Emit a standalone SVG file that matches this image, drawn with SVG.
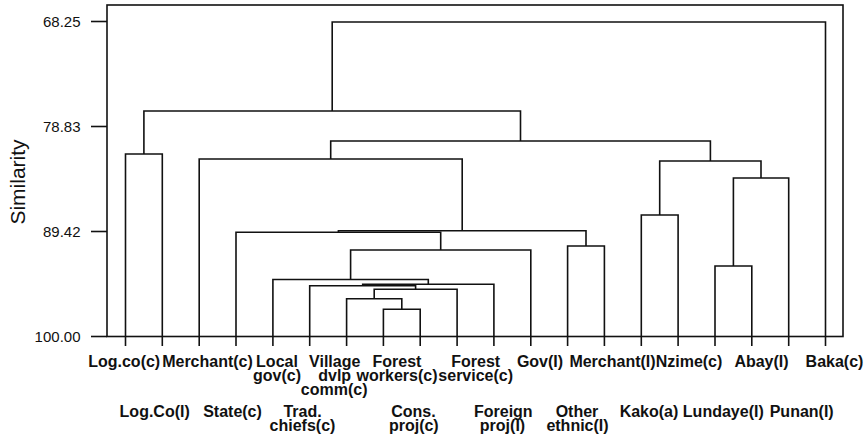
<svg xmlns="http://www.w3.org/2000/svg" width="867" height="434" viewBox="0 0 867 434">
  <style>
    .frame { fill: none; stroke: #111; stroke-width: 1.6; }
    .link { fill: none; stroke: #111; stroke-width: 1.6; stroke-linejoin: miter; }
    .tick { stroke: #111; stroke-width: 1.6; }
    .axis-num { font-family: "Liberation Sans", Arial, sans-serif; font-size: 15px; fill: #111; text-anchor: end; }
    .axis-title { font-family: "Liberation Sans", Arial, sans-serif; font-size: 21px; fill: #111; text-anchor: middle; }
    .leaf-label { font-family: "Liberation Sans", Arial, sans-serif; font-size: 16px; font-weight: bold; fill: #111; text-anchor: middle; }
  </style>
  <rect width="867" height="434" fill="#fff"/>

  <!-- plot frame and similarity axis -->
  <g id="axis">
    <rect class="frame" x="107" y="5" width="736" height="331.5"/>
    <line class="tick" x1="91" y1="21.5" x2="107" y2="21.5"/>
    <line class="tick" x1="91" y1="126.5" x2="107" y2="126.5"/>
    <line class="tick" x1="91" y1="231.5" x2="107" y2="231.5"/>
    <line class="tick" x1="91" y1="336.5" x2="107" y2="336.5"/>
    <text class="axis-num" x="80.5" y="27">68.25</text>
    <text class="axis-num" x="80.5" y="132">78.83</text>
    <text class="axis-num" x="80.5" y="237">89.42</text>
    <text class="axis-num" x="80.5" y="342">100.00</text>
    <text class="axis-title" transform="translate(25,182) rotate(-90)">Similarity</text>
  </g>

  <!-- dendrogram links: each path is left leg, bar, right leg -->
  <g id="connectors">
    <path class="link" d="M383.4 336.5 V309.3 H420.2 V336.5"/>
    <path class="link" d="M346.6 336.5 V298.7 H401.8 V309.3"/>
    <path class="link" d="M374.2 298.7 V289.3 H457.1 V336.5"/>
    <path class="link" d="M309.7 336.5 V285.8 H415.6 V289.3"/>
    <path class="link" d="M362.7 285.8 V284.3 H493.9 V336.5"/>
    <path class="link" d="M272.9 336.5 V279.5 H428.3 V284.3"/>
    <path class="link" d="M350.6 279.5 V250 H530.8 V336.5"/>
    <path class="link" d="M236 336.5 V232.3 H440.7 V250"/>
    <path class="link" d="M567.6 336.5 V246 H604.4 V336.5"/>
    <path class="link" d="M338.4 232.3 V230.7 H586 V246"/>
    <path class="link" d="M199.2 336.5 V159 H462.2 V230.7"/>
    <path class="link" d="M641.3 336.5 V215 H678.1 V336.5"/>
    <path class="link" d="M715 336.5 V266 H751.8 V336.5"/>
    <path class="link" d="M733.4 266 V178 H788.7 V336.5"/>
    <path class="link" d="M659.7 215 V161 H761 V178"/>
    <path class="link" d="M330.7 159 V141 H710.4 V161"/>
    <path class="link" d="M125.5 336.5 V154 H162.3 V336.5"/>
    <path class="link" d="M143.9 154 V111 H520.5 V141"/>
    <path class="link" d="M332.2 111 V22 H825.5 V336.5"/>
  </g>

  <!-- leaves: tick under the baseline and the label -->
  <g id="leaf-logco-c"><line class="tick" x1="125.5" y1="336.5" x2="125.5" y2="346"/><text class="leaf-label" x="124.2" y="366.5">Log.co(c)</text></g>
  <g id="leaf-logco-i"><line class="tick" x1="162.3" y1="336.5" x2="162.3" y2="346"/><text class="leaf-label" x="154.7" y="416.5">Log.Co(I)</text></g>
  <g id="leaf-merchant-c"><line class="tick" x1="199.2" y1="336.5" x2="199.2" y2="346"/><text class="leaf-label" x="207.5" y="366.5">Merchant(c)</text></g>
  <g id="leaf-state-c"><line class="tick" x1="236" y1="336.5" x2="236" y2="346"/><text class="leaf-label" x="232.5" y="416.5">State(c)</text></g>
  <g id="leaf-localgov-c"><line class="tick" x1="272.9" y1="336.5" x2="272.9" y2="346"/><text class="leaf-label" x="277" y="366.5">Local<tspan x="277" dy="14">gov(c)</tspan></text></g>
  <g id="leaf-tradchiefs-c"><line class="tick" x1="309.7" y1="336.5" x2="309.7" y2="346"/><text class="leaf-label" x="302.5" y="416.5">Trad.<tspan x="302.5" dy="14">chiefs(c)</tspan></text></g>
  <g id="leaf-village-c"><line class="tick" x1="346.6" y1="336.5" x2="346.6" y2="346"/><text class="leaf-label" x="334.7" y="366.5">Village<tspan x="334.7" dy="14">dvlp</tspan><tspan x="334.2" dy="14">comm(c)</tspan></text></g>
  <g id="leaf-consproj-c"><line class="tick" x1="383.4" y1="336.5" x2="383.4" y2="346"/><text class="leaf-label" x="413.5" y="416.5">Cons.<tspan x="413.8" dy="14">proj(c)</tspan></text></g>
  <g id="leaf-forestworkers-c"><line class="tick" x1="420.2" y1="336.5" x2="420.2" y2="346"/><text class="leaf-label" x="397" y="366.5">Forest<tspan x="397" dy="14">workers(c)</tspan></text></g>
  <g id="leaf-forestservice-c"><line class="tick" x1="457.1" y1="336.5" x2="457.1" y2="346"/><text class="leaf-label" x="475.7" y="366.5">Forest<tspan x="475.7" dy="14">service(c)</tspan></text></g>
  <g id="leaf-foreignproj-i"><line class="tick" x1="493.9" y1="336.5" x2="493.9" y2="346"/><text class="leaf-label" x="503.3" y="416.5">Foreign<tspan x="502.5" dy="14">proj(I)</tspan></text></g>
  <g id="leaf-gov-i"><line class="tick" x1="530.8" y1="336.5" x2="530.8" y2="346"/><text class="leaf-label" x="540" y="366.5">Gov(I)</text></g>
  <g id="leaf-otherethnic-i"><line class="tick" x1="567.6" y1="336.5" x2="567.6" y2="346"/><text class="leaf-label" x="577" y="416.5">Other<tspan x="577.5" dy="14">ethnic(I)</tspan></text></g>
  <g id="leaf-merchant-i"><line class="tick" x1="604.4" y1="336.5" x2="604.4" y2="346"/><text class="leaf-label" x="612.5" y="366.5">Merchant(I)</text></g>
  <g id="leaf-kako-a"><line class="tick" x1="641.3" y1="336.5" x2="641.3" y2="346"/><text class="leaf-label" x="649" y="416.5">Kako(a)</text></g>
  <g id="leaf-nzime-c"><line class="tick" x1="678.1" y1="336.5" x2="678.1" y2="346"/><text class="leaf-label" x="689" y="366.5">Nzime(c)</text></g>
  <g id="leaf-lundaye-i"><line class="tick" x1="715" y1="336.5" x2="715" y2="346"/><text class="leaf-label" x="723.3" y="416.5">Lundaye(I)</text></g>
  <g id="leaf-abay-i"><line class="tick" x1="751.8" y1="336.5" x2="751.8" y2="346"/><text class="leaf-label" x="761.5" y="366.5">Abay(I)</text></g>
  <g id="leaf-punan-i"><line class="tick" x1="788.7" y1="336.5" x2="788.7" y2="346"/><text class="leaf-label" x="801.7" y="416.5">Punan(I)</text></g>
  <g id="leaf-baka-c"><line class="tick" x1="825.5" y1="336.5" x2="825.5" y2="346"/><text class="leaf-label" x="834.5" y="366.5">Baka(c)</text></g>
</svg>
